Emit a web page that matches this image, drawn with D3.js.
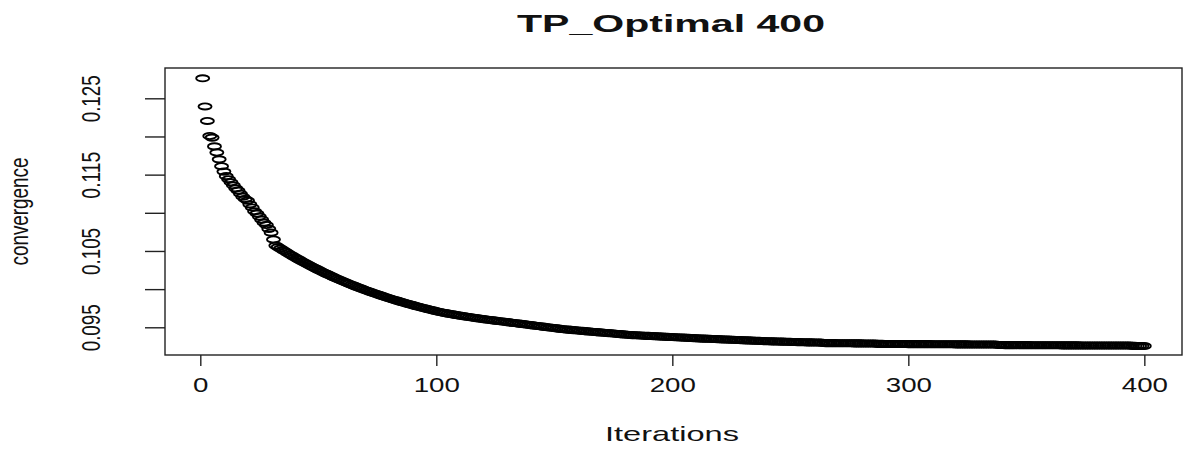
<!DOCTYPE html>
<html>
<head>
<meta charset="utf-8">
<script src="https://cdn.jsdelivr.net/npm/d3@7"></script>
<style>
  body { margin: 0; background: #fff; }
  text { font-family: "Liberation Sans", Arial, sans-serif; fill: #111; }
</style>
</head>
<body>
<div id="chart"></div>
<script>
// data (convergence per iteration, 1..400)
var convergence = [
  0.12762, 0.12393, 0.12203, 0.12006, 0.11985, 0.11870, 0.11790, 0.11700, 0.11610, 0.11540,
  0.11480, 0.11440, 0.11400, 0.11360, 0.11320, 0.11290, 0.11250, 0.11210, 0.11180, 0.11160,
  0.11110, 0.11070, 0.11020, 0.10990, 0.10950, 0.10910, 0.10870, 0.10840, 0.10790, 0.10740,
  0.10650, 0.10570, 0.10550, 0.10530, 0.10511, 0.10492, 0.10473, 0.10454, 0.10436, 0.10418,
  0.10400, 0.10383, 0.10366, 0.10349, 0.10332, 0.10316, 0.10299, 0.10283, 0.10268, 0.10252,
  0.10237, 0.10222, 0.10207, 0.10193, 0.10178, 0.10164, 0.10150, 0.10136, 0.10123, 0.10109,
  0.10096, 0.10083, 0.10071, 0.10058, 0.10046, 0.10033, 0.10021, 0.10010, 0.09998, 0.09986,
  0.09975, 0.09964, 0.09953, 0.09942, 0.09932, 0.09921, 0.09911, 0.09901, 0.09891, 0.09881,
  0.09871, 0.09861, 0.09852, 0.09843, 0.09833, 0.09824, 0.09815, 0.09807, 0.09798, 0.09790,
  0.09781, 0.09773, 0.09765, 0.09757, 0.09749, 0.09741, 0.09733, 0.09726, 0.09719, 0.09711,
  0.09704, 0.09697, 0.09690, 0.09685, 0.09679, 0.09674, 0.09669, 0.09663, 0.09658, 0.09653,
  0.09648, 0.09643, 0.09639, 0.09634, 0.09629, 0.09625, 0.09620, 0.09616, 0.09611, 0.09607,
  0.09603, 0.09599, 0.09595, 0.09591, 0.09587, 0.09583, 0.09580, 0.09576, 0.09572, 0.09568,
  0.09564, 0.09560, 0.09556, 0.09552, 0.09548, 0.09545, 0.09541, 0.09537, 0.09533, 0.09529,
  0.09525, 0.09521, 0.09517, 0.09513, 0.09509, 0.09505, 0.09501, 0.09497, 0.09494, 0.09490,
  0.09486, 0.09482, 0.09478, 0.09474, 0.09471, 0.09469, 0.09466, 0.09463, 0.09461, 0.09458,
  0.09455, 0.09453, 0.09450, 0.09447, 0.09445, 0.09442, 0.09439, 0.09437, 0.09434, 0.09431,
  0.09429, 0.09426, 0.09423, 0.09421, 0.09418, 0.09415, 0.09413, 0.09410, 0.09407, 0.09405,
  0.09402, 0.09399, 0.09398, 0.09396, 0.09395, 0.09393, 0.09392, 0.09390, 0.09388, 0.09387,
  0.09385, 0.09384, 0.09382, 0.09381, 0.09379, 0.09378, 0.09376, 0.09375, 0.09373, 0.09372,
  0.09370, 0.09369, 0.09367, 0.09366, 0.09364, 0.09363, 0.09361, 0.09360, 0.09358, 0.09356,
  0.09355, 0.09354, 0.09352, 0.09351, 0.09350, 0.09349, 0.09347, 0.09346, 0.09345, 0.09343,
  0.09342, 0.09341, 0.09340, 0.09338, 0.09337, 0.09336, 0.09334, 0.09333, 0.09332, 0.09331,
  0.09329, 0.09328, 0.09327, 0.09325, 0.09324, 0.09323, 0.09322, 0.09320, 0.09319, 0.09318,
  0.09317, 0.09316, 0.09315, 0.09314, 0.09313, 0.09312, 0.09312, 0.09311, 0.09310, 0.09309,
  0.09308, 0.09307, 0.09306, 0.09306, 0.09305, 0.09304, 0.09303, 0.09303, 0.09302, 0.09301,
  0.09301, 0.09300, 0.09299, 0.09294, 0.09293, 0.09293, 0.09292, 0.09292, 0.09292, 0.09291,
  0.09291, 0.09291, 0.09290, 0.09290, 0.09290, 0.09290, 0.09289, 0.09289, 0.09289, 0.09289,
  0.09288, 0.09288, 0.09288, 0.09288, 0.09288, 0.09288, 0.09283, 0.09283, 0.09283, 0.09282,
  0.09282, 0.09282, 0.09282, 0.09282, 0.09281, 0.09281, 0.09281, 0.09281, 0.09281, 0.09280,
  0.09280, 0.09280, 0.09280, 0.09280, 0.09279, 0.09279, 0.09279, 0.09279, 0.09279, 0.09278,
  0.09278, 0.09278, 0.09278, 0.09278, 0.09277, 0.09277, 0.09277, 0.09277, 0.09277, 0.09276,
  0.09276, 0.09276, 0.09276, 0.09276, 0.09276, 0.09275, 0.09275, 0.09275, 0.09275, 0.09275,
  0.09275, 0.09274, 0.09274, 0.09274, 0.09274, 0.09274, 0.09274, 0.09268, 0.09268, 0.09268,
  0.09267, 0.09267, 0.09267, 0.09267, 0.09267, 0.09266, 0.09266, 0.09266, 0.09266, 0.09266,
  0.09266, 0.09265, 0.09265, 0.09265, 0.09265, 0.09265, 0.09265, 0.09264, 0.09264, 0.09264,
  0.09264, 0.09264, 0.09264, 0.09264, 0.09263, 0.09263, 0.09263, 0.09263, 0.09263, 0.09263,
  0.09263, 0.09263, 0.09262, 0.09262, 0.09262, 0.09262, 0.09262, 0.09262, 0.09262, 0.09262,
  0.09262, 0.09262, 0.09262, 0.09262, 0.09262, 0.09262, 0.09261, 0.09261, 0.09261, 0.09261,
  0.09261, 0.09261, 0.09261, 0.09261, 0.09256, 0.09256, 0.09255, 0.09255, 0.09255, 0.09254
];
var iterations = convergence.map(function(d, i){ return i + 1; });

var xTicks = [0, 100, 200, 300, 400];
var yTicks = [0.095, 0.100, 0.105, 0.110, 0.115, 0.120, 0.125];
var yLabelled = [0.095, 0.105, 0.115, 0.125];
var xLim = [-14.96, 415.96];
var yLim = [0.09137, 0.12897];

var width = 1184;
var height = 451;
var box = {"left": 165, "right": 1182, "top": 68, "bottom": 355};

var svg = d3.select("#chart").append("svg")
    .attr("width", width)
    .attr("height", height)
    .style("display", "block");

svg.append("rect").attr("width", width).attr("height", height).attr("fill", "#fff");

// scales
var xScale = d3.scaleLinear().domain(xLim).range([box.left, box.right]);
var yScale = d3.scaleLinear().domain(yLim).range([box.bottom, box.top]);

// points (R pch=1, picture is stretched sideways so they come out as ellipses)
svg.append("g")
    .selectAll("ellipse")
    .data(convergence)
    .enter().append("ellipse")
    .attr("cx", function(d, i){ return xScale(iterations[i]); })
    .attr("cy", function(d){ return yScale(d); })
    .attr("rx", 6.5)
    .attr("ry", 3.1)
    .attr("fill", "none")
    .attr("stroke", "#000")
    .attr("stroke-width", 1.9);

// box
svg.append("rect")
    .attr("x", box.left)
    .attr("y", box.top)
    .attr("width", box.right - box.left)
    .attr("height", box.bottom - box.top)
    .attr("fill", "none")
    .attr("stroke", "#222")
    .attr("stroke-width", 1.4);

// axes
var xAxis = d3.axisBottom(xScale)
    .tickValues(xTicks)
    .tickSize(11)
    .tickSizeOuter(0)
    .tickFormat(d3.format("d"));
var gx = svg.append("g")
    .attr("transform", "translate(0," + box.bottom + ")")
    .call(xAxis);
gx.select(".domain").remove();
gx.selectAll(".tick line").attr("stroke", "#222").attr("stroke-width", 1.4);
gx.selectAll(".tick text")
    .attr("y", 37)
    .attr("dy", null)
    .attr("font-size", 21)
    .attr("fill", "#111")
    .attr("textLength", function(d){ return String(d).length * 15.4; })
    .attr("lengthAdjust", "spacingAndGlyphs");

var yAxis = d3.axisLeft(yScale)
    .tickValues(yTicks)
    .tickSize(20)
    .tickSizeOuter(0)
    .tickFormat(function(d){ return yLabelled.indexOf(d) >= 0 ? d3.format(".3f")(d) : ""; });
var gy = svg.append("g")
    .attr("transform", "translate(" + box.left + ",0)")
    .call(yAxis);
gy.select(".domain").remove();
gy.selectAll(".tick line").attr("stroke", "#222").attr("stroke-width", 1.4);
gy.selectAll(".tick text")
    .attr("x", null)
    .attr("dy", null)
    .attr("transform", "translate(-65,0) rotate(-90)")
    .attr("text-anchor", "middle")
    .attr("font-size", 25)
    .attr("fill", "#111")
    .filter(function(d){ return yLabelled.indexOf(d) >= 0; })
    .attr("textLength", 47)
    .attr("lengthAdjust", "spacingAndGlyphs");

// titles
svg.append("text")
    .attr("x", 671)
    .attr("y", 32)
    .attr("text-anchor", "middle")
    .attr("font-weight", "bold")
    .attr("font-size", 24)
    .attr("textLength", 308)
    .attr("lengthAdjust", "spacingAndGlyphs")
    .text("TP_Optimal 400");

svg.append("text")
    .attr("x", 672)
    .attr("y", 441)
    .attr("text-anchor", "middle")
    .attr("font-size", 21)
    .attr("textLength", 134)
    .attr("lengthAdjust", "spacingAndGlyphs")
    .text("Iterations");

svg.append("text")
    .attr("transform", "translate(28," + ((box.top + box.bottom) / 2) + ") rotate(-90)")
    .attr("text-anchor", "middle")
    .attr("font-size", 25)
    .attr("textLength", 108)
    .attr("lengthAdjust", "spacingAndGlyphs")
    .text("convergence");
</script>
</body>
</html>
